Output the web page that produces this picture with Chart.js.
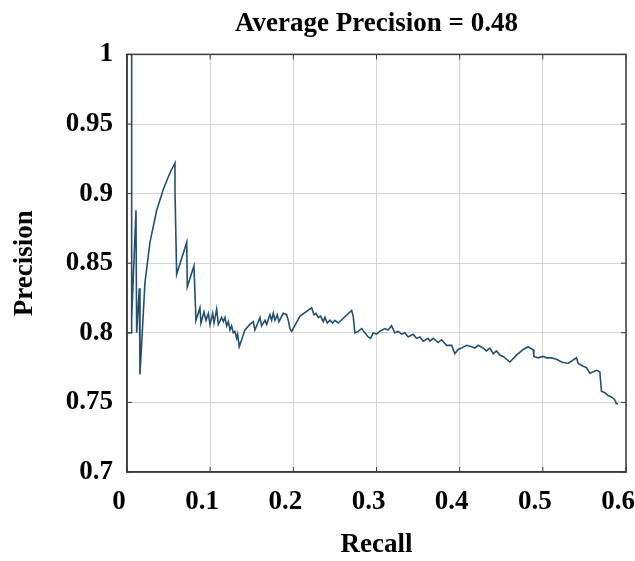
<!DOCTYPE html>
<html>
<head>
<meta charset="utf-8">
<script src="https://cdn.jsdelivr.net/npm/chart.js@4/dist/chart.umd.min.js"></script>
<style>
    html, body { margin: 0; padding: 0; background: #fff; }
    #wrap { width: 635px; height: 561px; }
</style>
</head>
<body>
<div id="wrap"><canvas id="prChart" width="635" height="561"></canvas></div>
<script>
// values (recall, precision)
const recall = [0, 0.0056, 0.0056, 0.0056, 0.0108, 0.0116, 0.0148, 0.0156,
    0.0216, 0.0276, 0.0357, 0.0436, 0.0517, 0.0577, 0.0577, 0.0597, 0.0718, 0.0725, 0.0805, 0.0829,
    0.0877, 0.0889, 0.0925, 0.095, 0.0978, 0.0998, 0.103, 0.1046, 0.1078, 0.1098, 0.1138, 0.1158,
    0.1178, 0.1198, 0.1218, 0.1238, 0.1258, 0.1278, 0.1298, 0.1318, 0.133, 0.135,
    0.1418, 0.1478, 0.1518, 0.1538, 0.1599, 0.1619, 0.1659, 0.1679, 0.1719, 0.1739, 0.1759, 0.1779,
    0.1807, 0.1827, 0.1879, 0.1919, 0.1939, 0.1959, 0.198,
    0.208, 0.222, 0.2248, 0.2272, 0.23, 0.2328, 0.236, 0.238, 0.2408, 0.244, 0.2472, 0.25, 0.254,
    0.2701, 0.272, 0.274, 0.278, 0.2821, 0.2861, 0.29, 0.2929, 0.296, 0.3, 0.304, 0.31, 0.314, 0.3181,
    0.3221, 0.3261, 0.3301, 0.3341, 0.3381, 0.3441, 0.3481, 0.3522, 0.3561, 0.3621,
    0.3642, 0.3682, 0.3742, 0.3782, 0.3843, 0.3903, 0.3942, 0.3982, 0.4023, 0.4083, 0.4143, 0.4183,
    0.4223, 0.4283, 0.4323, 0.4363, 0.4403, 0.4443, 0.4483, 0.4523, 0.4563, 0.4603, 0.4684, 0.4764, 0.4824,
    0.4844, 0.4884, 0.4892, 0.4944, 0.5004, 0.5044, 0.5104, 0.5164, 0.5225, 0.5304, 0.5405, 0.5425,
    0.5485, 0.5525, 0.5565, 0.5605, 0.5645, 0.5685, 0.5705, 0.5745, 0.5785, 0.5825, 0.5865, 0.5885, 0.5905]
const precision = [0.8, 0.8, 1.0, 0.81, 0.888, 0.8, 0.832, 0.77,
    0.836, 0.865, 0.888, 0.903, 0.915, 0.922, 0.902, 0.842, 0.865, 0.833, 0.848, 0.809,
    0.818, 0.807, 0.815, 0.809, 0.814, 0.806, 0.814, 0.807, 0.817, 0.806, 0.811, 0.808,
    0.811, 0.805, 0.808, 0.802, 0.805, 0.8, 0.801, 0.796, 0.799, 0.79,
    0.802, 0.806, 0.808, 0.802, 0.811, 0.805, 0.809, 0.806, 0.813, 0.809, 0.814, 0.809,
    0.813, 0.808, 0.814, 0.813, 0.809, 0.803, 0.801,
    0.812, 0.818, 0.813, 0.814, 0.811, 0.812, 0.808, 0.811, 0.807, 0.809, 0.807, 0.809, 0.807,
    0.816, 0.812, 0.8, 0.801, 0.803, 0.8, 0.797, 0.796, 0.8, 0.799, 0.801, 0.803, 0.802, 0.805,
    0.8, 0.801, 0.799, 0.8, 0.797, 0.799, 0.796, 0.797, 0.794, 0.796,
    0.794, 0.796, 0.793, 0.795, 0.791, 0.791, 0.785, 0.788, 0.789, 0.791, 0.79, 0.789,
    0.791, 0.789, 0.787, 0.789, 0.785, 0.787, 0.784, 0.783, 0.781, 0.779, 0.784, 0.788, 0.79,
    0.789, 0.788, 0.783, 0.782, 0.783, 0.782, 0.782, 0.781, 0.779, 0.778, 0.782, 0.778,
    0.776, 0.775, 0.771, 0.772, 0.773, 0.772, 0.758, 0.757, 0.755, 0.754, 0.752, 0.749, 0.749]

const xTicks = [0, 0.1, 0.2, 0.3, 0.4, 0.5, 0.6]
const yTicks = [0.7, 0.75, 0.8, 0.85, 0.9, 0.95, 1]

const font = 'Liberation Serif, Times New Roman, serif'

// box round the plot with little inward ticks, matlab style
const frame = {
    id: 'frame',
    afterDraw(chart) {
        let ctx = chart.ctx
        let a = chart.chartArea
        let xs = chart.scales.x
        let ys = chart.scales.y
        ctx.save()
        ctx.strokeStyle = '#3a3a3a'
        ctx.lineWidth = 1.5
        ctx.strokeRect(a.left, a.top, a.right - a.left, a.bottom - a.top)
        ctx.lineWidth = 1
        ctx.beginPath()
        xTicks.forEach((v) => {
            let px = xs.getPixelForValue(v)
            ctx.moveTo(px, a.top); ctx.lineTo(px, a.top + 5)
            ctx.moveTo(px, a.bottom); ctx.lineTo(px, a.bottom - 5)
        })
        yTicks.forEach((v) => {
            let py = ys.getPixelForValue(v)
            ctx.moveTo(a.right, py); ctx.lineTo(a.right - 5, py)
            ctx.moveTo(a.left, py); ctx.lineTo(a.left + 5, py)
        })
        ctx.stroke()
        ctx.restore()
    }
}

const points = recall.map((r, i) => ({x: r, y: precision[i]}))

new Chart(document.getElementById('prChart'), {
    type: 'scatter',
    data: {
        datasets: [{
            data: points,
            showLine: true,
            borderColor: '#23506f',
            borderWidth: 1.6,
            pointRadius: 0,
            tension: 0,
            fill: false
        }]
    },
    options: {
        responsive: false,
        animation: false,
        layout: {padding: {left: 0, right: 9, top: 0, bottom: 0}},
        plugins: {
            legend: {display: false},
            tooltip: {enabled: false},
            title: {
                display: true,
                text: 'Average Precision = 0.48',
                fullSize: false,
                color: '#000',
                font: {family: font, size: 27, weight: 'bold'},
                padding: {top: 8, bottom: 14}
            }
        },
        scales: {
            x: {
                type: 'linear',
                min: 0,
                max: 0.6,
                afterBuildTicks: (s) => { s.ticks = xTicks.map((v) => ({value: v})) },
                afterFit: (s) => { s.height = 89; s.paddingLeft = 0; s.paddingRight = 0 },
                grid: {color: '#d4d4d4', lineWidth: 1, drawTicks: false},
                border: {color: '#3a3a3a', width: 1.5},
                ticks: {
                    color: '#000',
                    padding: 14,
                    labelOffset: -8,
                    font: {family: font, size: 27, weight: 'bold'},
                    callback: (v) => String(+v.toFixed(2))
                },
                title: {
                    display: true,
                    text: 'Recall',
                    color: '#000',
                    font: {family: font, size: 27, weight: 'bold'},
                    padding: {top: 0, bottom: 0}
                }
            },
            y: {
                type: 'linear',
                min: 0.7,
                max: 1,
                afterBuildTicks: (s) => { s.ticks = yTicks.map((v) => ({value: v})) },
                afterFit: (s) => { s.width = 127 },
                grid: {color: '#d4d4d4', lineWidth: 1, drawTicks: false},
                border: {color: '#3a3a3a', width: 1.5},
                ticks: {
                    color: '#000',
                    padding: 14,
                    font: {family: font, size: 27, weight: 'bold'},
                    callback: (v) => String(+v.toFixed(2))
                },
                title: {
                    display: true,
                    text: 'Precision',
                    color: '#000',
                    font: {family: font, size: 27, weight: 'bold'},
                    padding: {top: 9, bottom: 0}
                }
            }
        }
    },
    plugins: [frame]
})
</script>
</body>
</html>
